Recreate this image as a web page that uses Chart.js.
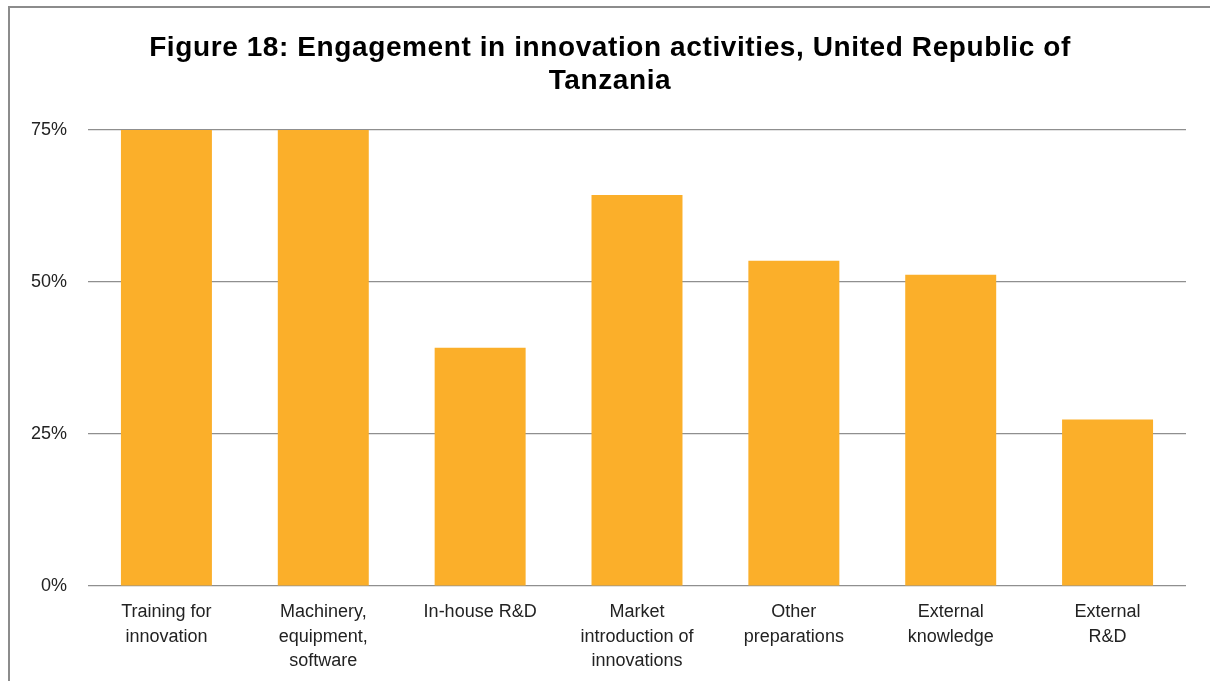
<!DOCTYPE html>
<html>
<head>
    <title>Figure 18: Engagement in innovation activities, United Republic of Tanzania</title>
    <script src="https://cdn.jsdelivr.net/npm/chart.js"></script>
    <style>
        html, body {
            margin: 0;
            padding: 0;
            background: #fff;
            overflow: hidden;
        }
        .frame {
            position: absolute;
            left: 8px;
            top: 6px;
            width: 1230px;
            height: 700px;
            border-left: 2px solid #8c8c8c;
            border-top: 2px solid #8c8c8c;
        }
        #innovChart {
            position: absolute;
            left: 0;
            top: 0;
        }
    </style>
</head>
<body>
<div class="frame"></div>
<canvas id="innovChart" width="1210" height="681"></canvas>

<script>
    // categories (multi-line labels) and share of firms engaged
    const categories = [
        ['Training for', 'innovation'],
        ['Machinery,', 'equipment,', 'software'],
        ['In-house R&D'],
        ['Market', 'introduction of', 'innovations'],
        ['Other', 'preparations'],
        ['External', 'knowledge'],
        ['External', 'R&D']
    ];
    const engagement = [75, 75, 39.2, 64.3, 53.5, 51.2, 27.4];
    const yTicks = [0, 25, 50, 75];

    const barColor = '#FBAF2A';
    const gridColor = '#8f8f8f';
    const textColor = '#222';
    const fontFamily = 'Liberation Sans, Arial, sans-serif';

    // widen the title lettering a little (wrapped around the title box draw)
    const titleSpacing = {
        id: 'titleSpacing',
        beforeDraw(chart) {
            const box = chart.titleBlock;
            if (!box || box._spaced) return;
            const orig = box.draw.bind(box);
            box.draw = function(area) {
                const c = chart.ctx;
                c.save();
                c.letterSpacing = '0.6px';
                orig(area);
                c.restore();
            };
            box._spaced = true;
        }
    };

    const ctx = document.getElementById('innovChart').getContext('2d');

    new Chart(ctx, {
        type: 'bar',
        data: {
            labels: categories,
            datasets: [{
                label: 'Engagement',
                data: engagement,
                backgroundColor: barColor,
                borderWidth: 0,
                barPercentage: 0.58,
                categoryPercentage: 1.0
            }]
        },
        plugins: [titleSpacing],
        options: {
            responsive: false,
            animation: false,
            layout: {
                padding: { left: 10, right: 0, top: 0, bottom: 0 }
            },
            plugins: {
                legend: { display: false },
                tooltip: { enabled: false },
                title: {
                    display: true,
                    text: ['Figure 18: Engagement in innovation activities, United Republic of', 'Tanzania'],
                    color: '#000',
                    font: { family: fontFamily, size: 28, weight: 'bold', lineHeight: 1.18 },
                    padding: { top: 32, bottom: 32 }
                }
            },
            scales: {
                x: {
                    grid: { display: false },
                    border: { display: false },
                    ticks: {
                        color: textColor,
                        font: { family: fontFamily, size: 18, lineHeight: 1.36 },
                        padding: 6,
                        maxRotation: 0,
                        autoSkip: false
                    },
                    afterFit: function(scale) {
                        scale.height = 95;
                    }
                },
                y: {
                    min: 0,
                    max: 75,
                    afterBuildTicks: function(scale) {
                        scale.ticks = yTicks.map(v => ({ value: v }));
                    },
                    grid: {
                        color: gridColor,
                        lineWidth: 1.2,
                        drawTicks: false
                    },
                    border: { display: false },
                    ticks: {
                        color: textColor,
                        font: { family: fontFamily, size: 18 },
                        padding: 21,
                        callback: v => v + '%'
                    },
                    afterFit: function(scale) {
                        scale.width = 78;
                    }
                },
                // empty gutter on the right side of the plot
                gutter: {
                    position: 'right',
                    grid: { display: false },
                    border: { display: false },
                    ticks: { display: false },
                    afterFit: function(scale) {
                        scale.width = 24;
                    }
                }
            }
        }
    });
</script>
</body>
</html>
